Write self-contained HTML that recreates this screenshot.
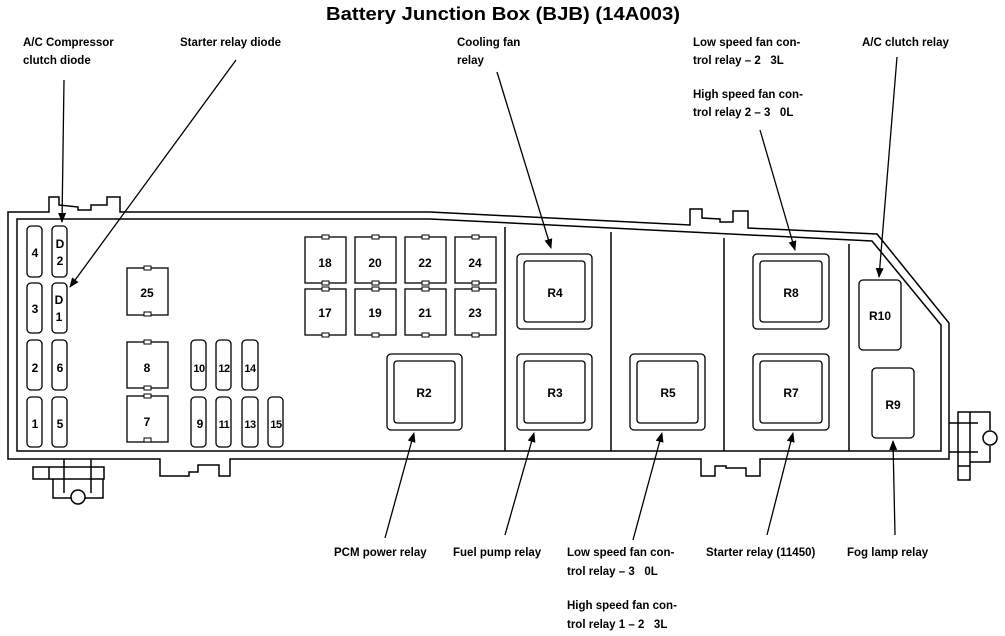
<!DOCTYPE html>
<html><head><meta charset="utf-8"><style>
html,body{margin:0;padding:0;background:#fff;}
svg{display:block}
text{font-family:"Liberation Sans",sans-serif;fill:#000;white-space:pre;}
.l{font-size:11.5px;font-weight:bold;}
.n{font-size:12px;font-weight:bold;text-anchor:middle;}
.s{font-size:11px;font-weight:bold;text-anchor:middle;letter-spacing:-0.5px;}
</style></head><body>
<svg width="1005" height="636" viewBox="0 0 1005 636" xmlns="http://www.w3.org/2000/svg" xml:space="preserve">
<defs><marker id="a" markerWidth="10" markerHeight="10" refX="9" refY="5" orient="auto" markerUnits="userSpaceOnUse"><path d="M0,1 L10,5 L0,9 Z" fill="#000"/></marker></defs>
<text x="503" y="20" font-size="18" font-weight="bold" text-anchor="middle" textLength="354" lengthAdjust="spacingAndGlyphs">Battery Junction Box (BJB) (14A003)</text>
<g class="l">
<text x="23" y="46">A/C Compressor</text><text x="23" y="64">clutch diode</text>
<text x="180" y="46">Starter relay diode</text>
<text x="457" y="46">Cooling fan</text><text x="457" y="64">relay</text>
<text x="693" y="46">Low speed fan con-</text><text x="693" y="64">trol relay – 2   3L</text>
<text x="693" y="98">High speed fan con-</text><text x="693" y="116">trol relay 2 – 3   0L</text>
<text x="862" y="46">A/C clutch relay</text>
<text x="334" y="556">PCM power relay</text>
<text x="453" y="556">Fuel pump relay</text>
<text x="567" y="556">Low speed fan con-</text><text x="567" y="575">trol relay – 3   0L</text>
<text x="567" y="609">High speed fan con-</text><text x="567" y="628">trol relay 1 – 2   3L</text>
<text x="706" y="556">Starter relay (11450)</text>
<text x="847" y="556">Fog lamp relay</text>
</g>
<g fill="none" stroke="#000" stroke-width="1.5">
<path d="M8,212 L49,212 L49,197 L59,197 L59,205 L78,207 L78,210 L91,210 L91,205 L107,205 L107,197 L120,197 L120,212 L430,212 L690,225 L690,209 L702,209 L702,218 L720,219 L720,222 L733,222 L733,211 L748,211 L748,228 L877,234 L949,323 L949,459 L760,459 L760,476 L746,476 L746,468 L726,468 L726,466 L715,466 L715,476 L701,476 L701,459 L230,459 L230,476 L219,476 L219,465 L198,465 L198,472 L189,472 L189,476 L160,476 L160,459 L8,459 Z"/>
<path d="M17,219 L430,219 L872,241 L941,325 L941,451 L17,451 Z"/>
<path d="M505,227 V451 M611,232 V451 M724,238 V451 M849,244 V451"/>
<path d="M33,467 H104 V479 H33 Z M49,467 V479 M64,459 V493 M91,459 V493 M53,479 V498 H71 M85,498 H103 V479"/>
<circle cx="78" cy="497" r="7"/>
<path d="M958,412 H970 V480 H958 Z M958,466 H970 M949,423 H978 M949,452 H978 M970,412 H990 V430 M970,462 H990 V446"/>
<circle cx="990" cy="438" r="7"/>
</g>
<g fill="none" stroke="#000" stroke-width="1.3">
<rect x="27" y="226" width="15" height="51" rx="4"/><rect x="52" y="226" width="15" height="51" rx="4"/>
<rect x="27" y="283" width="15" height="50" rx="4"/><rect x="52" y="283" width="15" height="50" rx="4"/>
<rect x="27" y="340" width="15" height="50" rx="4"/><rect x="52" y="340" width="15" height="50" rx="4"/>
<rect x="27" y="397" width="15" height="50" rx="4"/><rect x="52" y="397" width="15" height="50" rx="4"/>
<rect x="191" y="340" width="15" height="50" rx="4"/><rect x="216" y="340" width="15" height="50" rx="4"/><rect x="242" y="340" width="16" height="50" rx="4"/>
<rect x="191" y="397" width="15" height="50" rx="4"/><rect x="216" y="397" width="15" height="50" rx="4"/><rect x="242" y="397" width="16" height="50" rx="4"/><rect x="268" y="397" width="15" height="50" rx="4"/>
<rect x="127" y="268" width="41" height="47"/><rect x="127" y="342" width="41" height="46"/><rect x="127" y="396" width="41" height="46"/>
<rect x="305" y="237" width="41" height="46"/><rect x="355" y="237" width="41" height="46"/><rect x="405" y="237" width="41" height="46"/><rect x="455" y="237" width="41" height="46"/>
<rect x="305" y="289" width="41" height="46"/><rect x="355" y="289" width="41" height="46"/><rect x="405" y="289" width="41" height="46"/><rect x="455" y="289" width="41" height="46"/>
<rect x="387" y="354" width="75" height="76" rx="4"/><rect x="394" y="361" width="61" height="62" rx="3"/>
<rect x="517" y="254" width="75" height="75" rx="4"/><rect x="524" y="261" width="61" height="61" rx="3"/>
<rect x="517" y="354" width="75" height="76" rx="4"/><rect x="524" y="361" width="61" height="62" rx="3"/>
<rect x="630" y="354" width="75" height="76" rx="4"/><rect x="637" y="361" width="61" height="62" rx="3"/>
<rect x="753" y="254" width="76" height="75" rx="4"/><rect x="760" y="261" width="62" height="61" rx="3"/>
<rect x="753" y="354" width="76" height="76" rx="4"/><rect x="760" y="361" width="62" height="62" rx="3"/>
<rect x="859" y="280" width="42" height="70" rx="4"/>
<rect x="872" y="368" width="42" height="70" rx="4"/>
</g>
<g fill="#fff" stroke="#000" stroke-width="1">
<rect x="144" y="266" width="7" height="4"/><rect x="144" y="312" width="7" height="4"/>
<rect x="144" y="340" width="7" height="4"/><rect x="144" y="386" width="7" height="4"/>
<rect x="144" y="394" width="7" height="4"/><rect x="144" y="438" width="7" height="4"/>
<rect x="322" y="235" width="7" height="4"/><rect x="322" y="281" width="7" height="4"/><rect x="372" y="235" width="7" height="4"/><rect x="372" y="281" width="7" height="4"/>
<rect x="422" y="235" width="7" height="4"/><rect x="422" y="281" width="7" height="4"/><rect x="472" y="235" width="7" height="4"/><rect x="472" y="281" width="7" height="4"/>
<rect x="322" y="287" width="7" height="4"/><rect x="322" y="333" width="7" height="4"/><rect x="372" y="287" width="7" height="4"/><rect x="372" y="333" width="7" height="4"/>
<rect x="422" y="287" width="7" height="4"/><rect x="422" y="333" width="7" height="4"/><rect x="472" y="287" width="7" height="4"/><rect x="472" y="333" width="7" height="4"/>
</g>
<g class="n">
<text x="35" y="257">4</text><text x="60" y="248">D</text><text x="60" y="265">2</text>
<text x="35" y="313">3</text><text x="59" y="304">D</text><text x="59" y="321">1</text>
<text x="35" y="372">2</text><text x="60" y="372">6</text>
<text x="35" y="428">1</text><text x="60" y="428">5</text>
<text x="147" y="297">25</text><text x="147" y="372">8</text><text x="147" y="426">7</text>
<text x="200" y="428">9</text>
<text x="325" y="267">18</text><text x="375" y="267">20</text><text x="425" y="267">22</text><text x="475" y="267">24</text>
<text x="325" y="317">17</text><text x="375" y="317">19</text><text x="425" y="317">21</text><text x="475" y="317">23</text>
<text x="424" y="397">R2</text><text x="555" y="297">R4</text><text x="555" y="397">R3</text><text x="668" y="397">R5</text>
<text x="791" y="297">R8</text><text x="791" y="397">R7</text><text x="880" y="320">R10</text><text x="893" y="409">R9</text>
</g>
<g class="s">
<text x="199" y="372">10</text><text x="224" y="372">12</text><text x="250" y="372">14</text>
<text x="224" y="428">11</text><text x="250" y="428">13</text><text x="276" y="428">15</text>
</g>
<g stroke="#000" stroke-width="1.3" marker-end="url(#a)">
<line x1="64" y1="80" x2="62" y2="222"/>
<line x1="236" y1="60" x2="70" y2="287"/>
<line x1="497" y1="72" x2="551" y2="248"/>
<line x1="760" y1="130" x2="795" y2="250"/>
<line x1="897" y1="57" x2="879" y2="277"/>
<line x1="385" y1="538" x2="414" y2="433"/>
<line x1="505" y1="535" x2="534" y2="433"/>
<line x1="633" y1="540" x2="662" y2="433"/>
<line x1="767" y1="535" x2="793" y2="433"/>
<line x1="895" y1="535" x2="893" y2="441"/>
</g>
</svg>
</body></html>
